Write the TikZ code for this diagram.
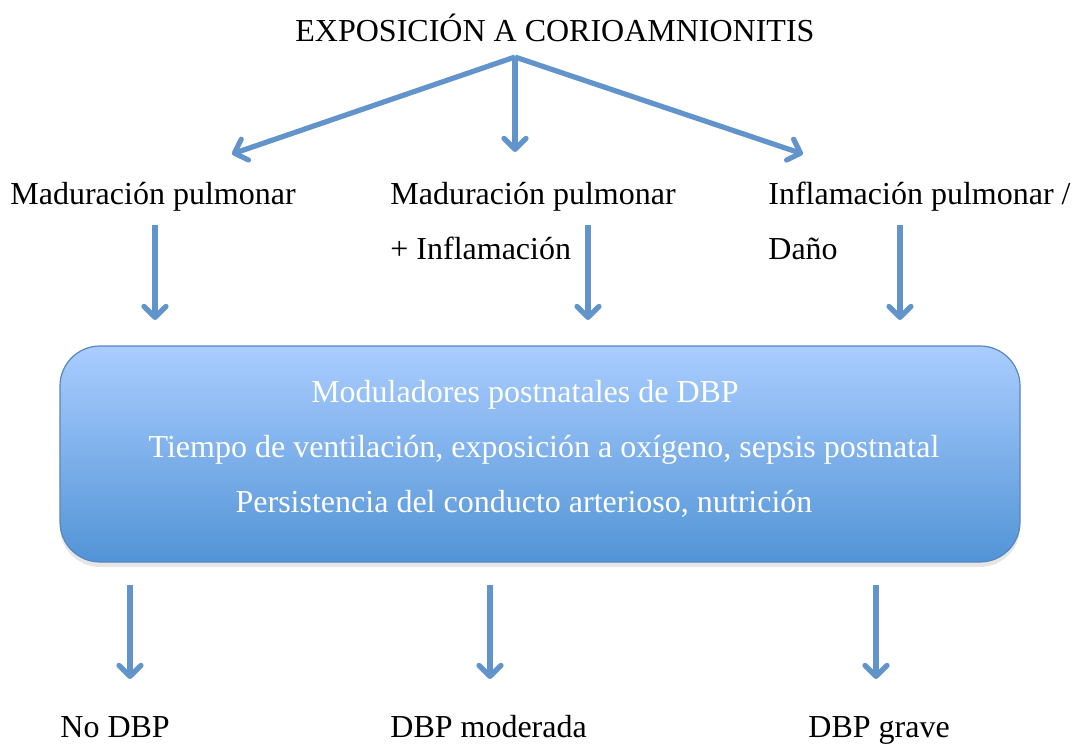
\documentclass[tikz,border=0pt]{standalone}
\usepackage{fontspec}
\setmainfont{Liberation Serif}
\definecolor{arrowblue}{RGB}{98, 148, 204}
\definecolor{boxtop}{RGB}{170, 205, 255}
\definecolor{boxbottom}{RGB}{82, 148, 214}
\definecolor{boxedge}{RGB}{88, 134, 192}
\usetikzlibrary{arrows.meta, shadows}

\begin{document}
\begin{tikzpicture}[
    x=0.5pt, y=-0.5pt,
    label/.style={inner sep=0pt, align=left, font=\fontsize{16}{27.5}\selectfont},
    modtext/.style={label, anchor=base, text=white},
    modbox/.style={rectangle, draw=boxedge, line width=0.6pt, rounded corners=20pt, top color=boxtop, bottom color=boxbottom, minimum width=480pt, minimum height=108pt, drop shadow={opacity=0.2, shadow xshift=0pt, shadow yshift=-2.5pt}},
    flow/.style={-{Straight Barb[length=5.5pt, width=11pt, round]}, line width=2.6pt, arrowblue}
]
    \useasboundingbox (0,0) rectangle (1073,744);

    \node[label, anchor=base] (expo) at (555,41) {EXPOSICIÓN A CORIOAMNIONITIS};

    \node[label, anchor=base west] (madur) at (10,204) {Maduración pulmonar};
    \node[label, anchor=base west] (mixto) at (390,259) {Maduración pulmonar\\+ Inflamación};
    \node[label, anchor=base west] (infla) at (768,259) {Inflamación pulmonar /\\Daño};

    \node[modbox] (modul) at (540,454) {};
    \node[modtext] (modul1) at (525,402) {Moduladores postnatales de DBP};
    \node[modtext] (modul2) at (544,457) {Tiempo de ventilación, exposición a oxígeno, sepsis postnatal};
    \node[modtext] (modul3) at (524,512) {Persistencia del conducto arterioso, nutrición};

    \node[label, anchor=base west] (nodbp) at (60,737) {No DBP};
    \node[label, anchor=base west] (moder) at (390,737) {DBP moderada};
    \node[label, anchor=base west] (grave) at (808,737) {DBP grave};

    % arrow ends
    \coordinate (apex) at (515,57);
    \coordinate (topl) at (232,154);
    \coordinate (topm) at (515,152);
    \coordinate (topr) at (803,154);
    \coordinate (madur1) at (155,225);
    \coordinate (madur2) at (155,320);
    \coordinate (mixto1) at (588,225);
    \coordinate (mixto2) at (588,320);
    \coordinate (infla1) at (900,225);
    \coordinate (infla2) at (900,320);
    \coordinate (nodbp1) at (130,585);
    \coordinate (nodbp2) at (130,679);
    \coordinate (moder1) at (490,585);
    \coordinate (moder2) at (490,679);
    \coordinate (grave1) at (876,585);
    \coordinate (grave2) at (876,679);

    \draw[flow] (apex) -- (topl);
    \draw[flow] (apex) -- (topm);
    \draw[flow] (apex) -- (topr);
    \draw[flow] (madur1) -- (madur2);
    \draw[flow] (mixto1) -- (mixto2);
    \draw[flow] (infla1) -- (infla2);
    \draw[flow] (nodbp1) -- (nodbp2);
    \draw[flow] (moder1) -- (moder2);
    \draw[flow] (grave1) -- (grave2);
\end{tikzpicture}
\end{document}
